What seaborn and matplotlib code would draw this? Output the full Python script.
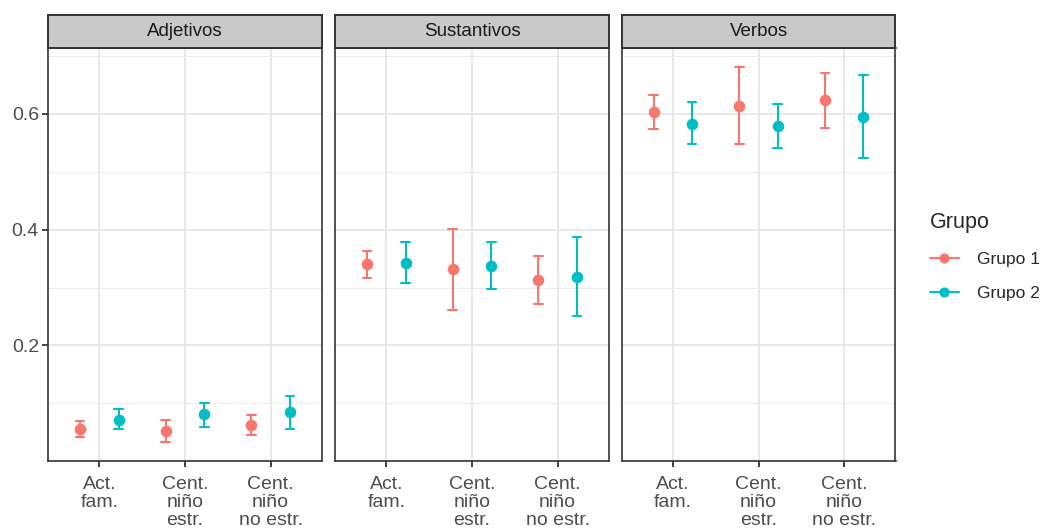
import pandas as pd
import seaborn as sns
import matplotlib.pyplot as plt
from matplotlib.lines import Line2D
from matplotlib.ticker import FixedLocator

paneles = ['Adjetivos', 'Sustantivos', 'Verbos']
categorias = ['Act.\nfam.', 'Cent.\nniño\nestr.', 'Cent.\nniño\nno estr.']
grupos = ['Grupo 1', 'Grupo 2']
colores = ['#F8766D', '#00BFC4']

# (media, limite inferior, limite superior) por categoria
adjetivos_g1 = [(0.055, 0.042, 0.069), (0.052, 0.033, 0.071), (0.062, 0.045, 0.080)]
adjetivos_g2 = [(0.072, 0.056, 0.090), (0.081, 0.060, 0.101), (0.085, 0.056, 0.113)]
sustantivos_g1 = [(0.340, 0.316, 0.363), (0.332, 0.262, 0.401), (0.313, 0.272, 0.355)]
sustantivos_g2 = [(0.343, 0.307, 0.378), (0.338, 0.298, 0.379), (0.319, 0.251, 0.387)]
verbos_g1 = [(0.603, 0.574, 0.633), (0.614, 0.548, 0.681), (0.623, 0.576, 0.670)]
verbos_g2 = [(0.583, 0.548, 0.620), (0.579, 0.541, 0.616), (0.595, 0.524, 0.666)]

datos = {
    'Adjetivos': [adjetivos_g1, adjetivos_g2],
    'Sustantivos': [sustantivos_g1, sustantivos_g2],
    'Verbos': [verbos_g1, verbos_g2],
}

# tabla larga: inferior, media y superior como tres filas -> mediana = media
filas = []
for panel in paneles:
    for grupo, serie in zip(grupos, datos[panel]):
        for cat, (m, lo, hi) in zip(categorias, serie):
            for v in (lo, m, hi):
                filas.append({'panel': panel, 'grupo': grupo, 'categoria': cat, 'valor': v})
df = pd.DataFrame(filas)

sns.set_style('white')
plt.rcParams['font.family'] = ['Liberation Sans', 'DejaVu Sans']

W, H = 1042, 531
fig = plt.figure(figsize=(W / 100, H / 100), dpi=100)

lefts = [48, 335, 621.5]
pw = 274
top, bottom, strip_top = 48, 461, 15
rango = df['valor'].max() - df['valor'].min()
ylim = (df['valor'].min() - 0.05 * rango, df['valor'].max() + 0.05 * rango)

for i, panel in enumerate(paneles):
    x0 = lefts[i]
    ax = fig.add_axes([x0 / W, 1 - bottom / H, pw / W, (bottom - top) / H])
    sub = df[df['panel'] == panel]
    sns.pointplot(data=sub, x='categoria', y='valor', hue='grupo',
                  order=categorias, hue_order=grupos, palette=colores,
                  estimator='median', errorbar=lambda v: (v.min(), v.max()),
                  dodge=0.45, linestyle='none', capsize=0.1, markersize=6.3,
                  err_kws={'linewidth': 1.5}, legend=False, ax=ax)
    ax.set_xlim(-0.6, 2.6)
    ax.set_ylim(*ylim)
    ax.set_xlabel('')
    ax.set_ylabel('')
    ax.yaxis.set_major_locator(FixedLocator([0.2, 0.4, 0.6]))
    ax.yaxis.set_minor_locator(FixedLocator([0.1, 0.3, 0.5, 0.7]))
    ax.grid(which='major', color='#E6E6E6', linewidth=1.3)
    ax.grid(which='minor', axis='y', color='#EBEBEB', linewidth=0.7)
    ax.set_axisbelow(True)
    for s in ax.spines.values():
        s.set_color('#333333')
        s.set_linewidth(1.2)
    ax.tick_params(axis='x', length=4.5, width=1.3, color='#333333', pad=6,
                   labelsize=14, labelcolor='#4D4D4D', bottom=True)
    for lbl in ax.get_xticklabels():
        lbl.set_linespacing(1.1)
    ax.tick_params(axis='y', which='minor', length=0)
    if i == 0:
        ax.tick_params(axis='y', length=4.5, width=1.3, color='#333333', pad=2,
                       labelsize=14, labelcolor='#4D4D4D', left=True)
        ax.set_yticklabels(['0.2', '0.4', '0.6'])
    else:
        ax.tick_params(axis='y', length=0, labelleft=False)

    sax = fig.add_axes([x0 / W, 1 - top / H, pw / W, (top - strip_top) / H])
    sax.set_facecolor('#C9C9C9')
    sax.set_xticks([])
    sax.set_yticks([])
    for s in sax.spines.values():
        s.set_color('#333333')
        s.set_linewidth(1.4)
    sax.text(0.5, 0.5, panel, ha='center', va='center', fontsize=13.5,
             color='#1A1A1A', transform=sax.transAxes)

handles = [Line2D([0], [0], color=c, marker='o', markersize=6.3, linewidth=1.5)
           for c in colores]
leg = fig.legend(handles, grupos, title='Grupo', loc='upper left',
                 bbox_to_anchor=(930 / W, 1 - 212 / H), frameon=False,
                 fontsize=12.5, title_fontsize=15.5, borderpad=0, borderaxespad=0,
                 handlelength=1.65, handletextpad=1.05, labelspacing=1.08,
                 alignment='left')

plt.savefig('out.png', dpi=100)
